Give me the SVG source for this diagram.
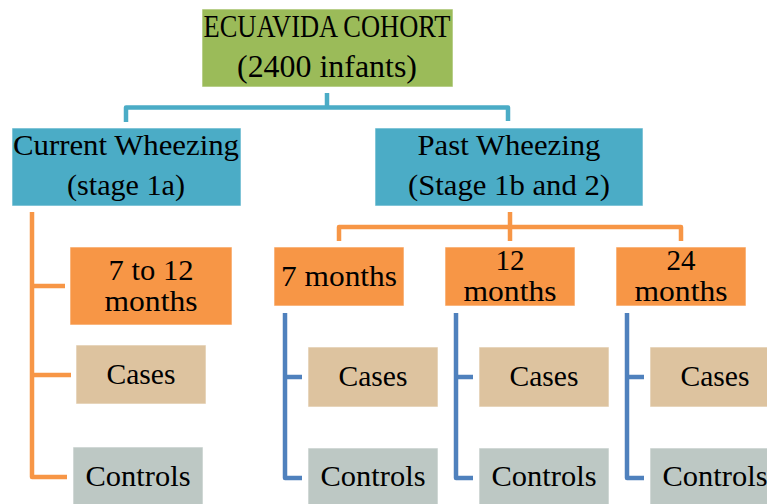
<svg xmlns="http://www.w3.org/2000/svg" width="767" height="504" viewBox="0 0 767 504">
<style>
.box{stroke:#ffffff;stroke-opacity:0.6;stroke-width:1}
.green{fill:#9BBB59}
.teal{fill:#4BACC6}
.orange{fill:#F79646}
.tan{fill:#DDC39F}
.gray{fill:#BDC8C4}
text{font-family:"Liberation Serif","DejaVu Serif",serif;fill:#000;text-anchor:middle}
.t32{font-size:32px}
.t30{font-size:30px}
.t29{font-size:29px}
.c{fill:none;stroke-width:4.5;stroke-linejoin:round}
.cteal{stroke:#4BACC6}
.corange{stroke:#F79646}
.cblue{stroke:#4F81BD}
</style>
<rect width="767" height="504" fill="#ffffff"/>
<g id="connectors">
<path class="c cteal" d="M327,93 V107.5 M126,122 V107.5 H508 V121"/>
<path class="c corange" d="M510,212 V227 M339,241 V227 H681 V241 M510,227 V241"/>
<path class="c corange" d="M32,212 V477 H67 M32,286 H65 M32,375 H71"/>
<path class="c cblue" d="M285,313 V478 H302 M285,377 H302"/>
<path class="c cblue" d="M456,313 V478 H473 M456,377 H473"/>
<path class="c cblue" d="M627,313 V478 H644 M627,377 H644"/>
</g>
<g id="cohort">
<rect class="box green" x="202" y="9" width="251" height="78"/>
<text class="t32" x="327" y="37" textLength="247" lengthAdjust="spacingAndGlyphs">ECUAVIDA COHORT</text>
<text class="t32" x="327" y="77" textLength="180" lengthAdjust="spacingAndGlyphs">(2400 infants)</text>
</g>
<g id="current">
<rect class="box teal" x="12" y="128" width="229" height="78"/>
<text class="t30" x="126" y="155" textLength="226" lengthAdjust="spacingAndGlyphs">Current Wheezing</text>
<text class="t30" x="126" y="195" textLength="118" lengthAdjust="spacingAndGlyphs">(stage 1a)</text>
</g>
<g id="past">
<rect class="box teal" x="375" y="128" width="268" height="78"/>
<text class="t30" x="509" y="155" textLength="183" lengthAdjust="spacingAndGlyphs">Past Wheezing</text>
<text class="t30" x="509" y="195" textLength="202" lengthAdjust="spacingAndGlyphs">(Stage 1b and 2)</text>
</g>
<g id="m7to12">
<rect class="box orange" x="70" y="247" width="162" height="78"/>
<text class="t29" x="151" y="280" textLength="85" lengthAdjust="spacingAndGlyphs">7 to 12</text>
<text class="t29" x="151" y="311" textLength="93" lengthAdjust="spacingAndGlyphs">months</text>
</g>
<g id="cases1">
<rect class="box tan" x="76" y="345" width="130" height="59"/>
<text class="t29" x="141" y="384" textLength="69" lengthAdjust="spacingAndGlyphs">Cases</text>
</g>
<g id="controls1">
<rect class="box gray" x="73" y="447" width="130" height="60"/>
<text class="t29" x="138" y="486" textLength="105" lengthAdjust="spacingAndGlyphs">Controls</text>
</g>
<g id="m7">
<rect class="box orange" x="274" y="247" width="130" height="59"/>
<text class="t29" x="339" y="286" textLength="116" lengthAdjust="spacingAndGlyphs">7 months</text>
</g>
<g id="cases2">
<rect class="box tan" x="308" y="347" width="130" height="60"/>
<text class="t29" x="373" y="386" textLength="69" lengthAdjust="spacingAndGlyphs">Cases</text>
</g>
<g id="controls2">
<rect class="box gray" x="308" y="448" width="130" height="60"/>
<text class="t29" x="373" y="486" textLength="105" lengthAdjust="spacingAndGlyphs">Controls</text>
</g>
<g id="m12">
<rect class="box orange" x="445" y="247" width="130" height="59"/>
<text class="t29" x="510" y="270">12</text>
<text class="t29" x="510" y="301" textLength="93" lengthAdjust="spacingAndGlyphs">months</text>
</g>
<g id="cases3">
<rect class="box tan" x="479" y="347" width="130" height="60"/>
<text class="t29" x="544" y="386" textLength="69" lengthAdjust="spacingAndGlyphs">Cases</text>
</g>
<g id="controls3">
<rect class="box gray" x="479" y="448" width="130" height="60"/>
<text class="t29" x="544" y="486" textLength="105" lengthAdjust="spacingAndGlyphs">Controls</text>
</g>
<g id="m24">
<rect class="box orange" x="616" y="247" width="130" height="59"/>
<text class="t29" x="681" y="270">24</text>
<text class="t29" x="681" y="301" textLength="93" lengthAdjust="spacingAndGlyphs">months</text>
</g>
<g id="cases4">
<rect class="box tan" x="650" y="347" width="130" height="60"/>
<text class="t29" x="715" y="386" textLength="69" lengthAdjust="spacingAndGlyphs">Cases</text>
</g>
<g id="controls4">
<rect class="box gray" x="650" y="448" width="130" height="60"/>
<text class="t29" x="715" y="486" textLength="105" lengthAdjust="spacingAndGlyphs">Controls</text>
</g>
</svg>
